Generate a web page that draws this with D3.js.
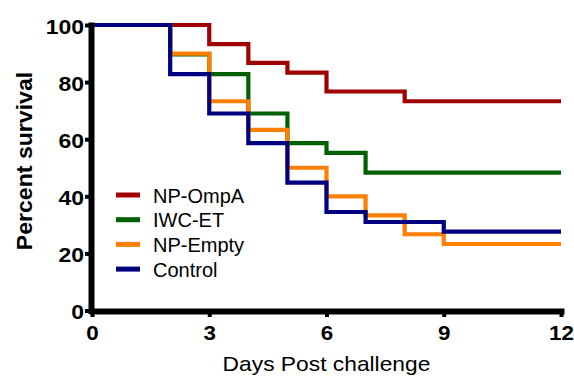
<!DOCTYPE html>
<html><head><meta charset="utf-8">
<script src="https://cdn.jsdelivr.net/npm/d3@7"></script>
<style>
html,body{margin:0;padding:0;background:#fff;}
svg{display:block;}
</style></head>
<body>
<svg id="chart" width="574" height="376"></svg>
<script>
// ---- data ----
const seriesNames = ["NP-OmpA", "IWC-ET", "NP-Empty", "Control"];
const seriesColors = ["#A00000", "#006000", "#FF8000", "#000080"];
const npOmpADays = [0, 3, 4, 5, 6, 8, 12];
const npOmpAValues = [100, 93.3, 86.7, 83.3, 76.7, 73.3, 73.3];
const iwcEtDays = [0, 2, 3, 4, 5, 6, 7, 12];
const iwcEtValues = [100, 89.7, 82.8, 69.0, 58.6, 55.2, 48.3, 48.3];
const npEmptyDays = [0, 2, 3, 4, 5, 6, 7, 8, 9, 12];
const npEmptyValues = [100, 90, 73.3, 63.3, 50, 40, 33.3, 26.7, 23.3, 23.3];
const controlDays = [0, 2, 3, 4, 5, 6, 7, 9, 12];
const controlValues = [100, 82.8, 69.0, 58.6, 44.8, 34.5, 31.0, 27.6, 27.6];
const xTicks = [0, 3, 6, 9, 12];
const yTicks = [0, 20, 40, 60, 80, 100];
const xTitle = "Days Post challenge";
const yTitle = "Percent survival";

const seriesDays = [npOmpADays, iwcEtDays, npEmptyDays, controlDays];
const seriesValues = [npOmpAValues, iwcEtValues, npEmptyValues, controlValues];

// ---- layout ----
const svg = d3.select("#chart");
const FONT = "'Liberation Sans', Arial, Helvetica, sans-serif";
const x = d3.scaleLinear().domain([0, 12]).range([92, 561]);
const y = d3.scaleLinear().domain([0, 100]).range([310.5, 25]);
const axisX = 91;   // y-axis line position
const axisY = 311;  // x-axis line position

// ---- series lines ----
const line = d3.line().x(d => x(d[0])).y(d => y(d[1])).curve(d3.curveStepAfter);
seriesNames.forEach((name, i) => {
  const pts = seriesDays[i].map((d, j) => [d, seriesValues[i][j]]);
  svg.append("path")
    .attr("d", line(pts))
    .attr("fill", "none")
    .attr("stroke", seriesColors[i])
    .attr("stroke-width", 4.2)
    .attr("stroke-linejoin", "miter");
});

// ---- y axis ----
const gy = svg.append("g").attr("transform", `translate(${axisX},0)`)
  .call(d3.axisLeft(y).tickValues(yTicks).tickSize(6).tickSizeOuter(0));
gy.select(".domain").attr("stroke", "#000").attr("stroke-width", 6).attr("stroke-linecap", "square");
gy.selectAll(".tick line").attr("stroke", "#000").attr("stroke-width", 4);
gy.selectAll(".tick text")
  .attr("x", null).attr("dy", null)
  .attr("transform", "translate(-7,8) scale(1.15,1)")
  .attr("font-family", FONT).attr("font-weight", "bold").attr("font-size", 20)
  .attr("fill", "#000").attr("text-anchor", "end");

// ---- x axis ----
const gx = svg.append("g").attr("transform", `translate(0,${axisY})`)
  .call(d3.axisBottom(x).tickValues(xTicks).tickSize(6).tickSizeOuter(0));
gx.select(".domain").attr("stroke", "#000").attr("stroke-width", 6).attr("stroke-linecap", "square");
gx.selectAll(".tick line").attr("stroke", "#000").attr("stroke-width", 4);
gx.selectAll(".tick text")
  .attr("y", null).attr("dy", null)
  .attr("transform", "translate(0,29) scale(1.12,1)")
  .attr("font-family", FONT).attr("font-weight", "bold").attr("font-size", 20)
  .attr("fill", "#000").attr("text-anchor", "middle");

// ---- axis titles ----
svg.append("text")
  .attr("transform", "translate(32,161) rotate(-90) scale(1.05,1)")
  .attr("text-anchor", "middle")
  .attr("font-family", FONT).attr("font-weight", "bold").attr("font-size", 22)
  .text(yTitle);
svg.append("text")
  .attr("transform", `translate(${(x(0) + x(12)) / 2},371) scale(1.14,1)`)
  .attr("text-anchor", "middle")
  .attr("font-family", FONT).attr("font-size", 20)
  .text(xTitle);

// ---- legend ----
const legend = svg.append("g").attr("transform", "translate(116,195)");
seriesNames.forEach((name, i) => {
  const g = legend.append("g").attr("transform", `translate(0,${i * 24.7})`);
  g.append("line").attr("x1", 0).attr("x2", 24).attr("y1", 0).attr("y2", 0)
    .attr("stroke", seriesColors[i]).attr("stroke-width", 5);
  g.append("text").attr("x", 37).attr("y", 7.5)
    .attr("font-family", FONT).attr("font-size", 20).attr("fill", "#000")
    .text(name);
});
</script>
</body></html>
